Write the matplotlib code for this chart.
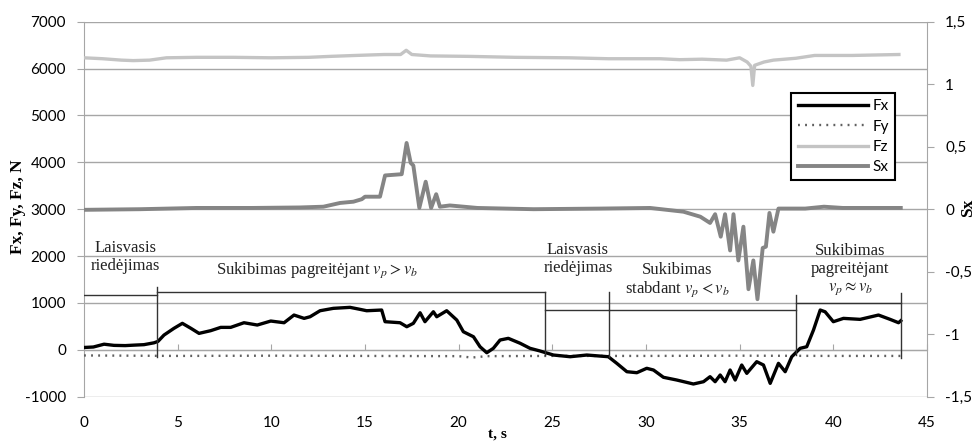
import matplotlib
matplotlib.use("Agg")
import matplotlib.pyplot as plt
from matplotlib.ticker import FuncFormatter, MultipleLocator, FixedLocator

plt.rcParams['font.family'] = ['Lato', 'DejaVu Sans']
plt.rcParams['mathtext.fontset'] = 'stix'

# ---------------- data ----------------
fx_t = [0, 0.5, 1.07, 1.6, 2.2, 2.67, 3.2, 3.74, 3.95, 4.27, 4.8, 5.25, 5.71, 6.14, 6.76,
        7.3, 7.83, 8.54, 9.25, 9.97, 10.68, 11.21, 11.75, 12.07, 12.6, 13.31, 14.2, 14.74,
        15.09, 15.89, 16.07, 16.87, 17.23, 17.58, 17.94, 18.2, 18.65, 18.83, 19.36, 19.9,
        20.25, 20.79, 21.14, 21.5, 21.85, 22.21, 22.65, 23.28, 23.81, 24.3, 25.06, 25.95,
        26.84, 27.99, 28.44, 28.98, 29.51, 30.04, 30.4, 30.93, 31.64, 32.53, 33.07, 33.42,
        33.69, 33.96, 34.22, 34.49, 34.76, 35.11, 35.38, 35.91, 36.27, 36.63, 37.07, 37.43,
        37.78, 38.23, 38.58, 38.94, 39.3, 39.56, 40.0, 40.54, 41.43, 42.41, 43.03, 43.48, 43.6]
fx_v = [50, 60, 120, 95, 90, 100, 110, 150, 180, 315, 458, 565, 458, 351, 408,
        479, 479, 578, 529, 614, 578, 742, 671, 706, 834, 885, 906, 863,
        834, 849, 600, 578, 493, 565, 791, 600, 812, 706, 834, 635,
        386, 279, 66, -62, 32, 209, 245, 140, 32, -20, -111, -147,
        -111, -147, -288, -467, -488, -394, -431, -586, -644, -729, -680, -573,
        -680, -537, -680, -431, -644, -324, -502, -253, -324, -715, -288, -467,
        -147, 32, 66, 422, 849, 812, 600, 671, 650, 742, 650, 578, 620]

fy_t = [0, 5, 10, 15, 20, 20.7, 21.5, 25, 30, 35, 40, 43.6]
fy_v = [-120, -130, -125, -130, -135, -165, -135, -130, -130, -125, -130, -130]

fz_t = [0, 1, 2, 2.63, 3.5, 4.4, 6, 8, 10, 12, 13.13, 14.5, 16.0, 16.9, 17.2, 17.5,
        18.5, 20.6, 23, 25.9, 28, 30.75, 31.8, 33, 34.3, 35.0, 35.4, 35.6, 35.7, 35.8,
        36.3, 36.8, 38, 39, 41, 43.5]
fz_v = [6230, 6210, 6180, 6170, 6180, 6230, 6240, 6240, 6230, 6240, 6260, 6280, 6300,
        6300, 6390, 6300, 6270, 6260, 6240, 6230, 6210, 6210, 6190, 6200, 6180, 6230,
        6140, 6050, 5640, 6070, 6140, 6180, 6220, 6280, 6280, 6300]

sx_t = [0, 3, 6, 9, 11.53, 12.78, 13.67, 14.38, 14.83, 15.0, 15.8, 16.07, 16.96, 17.22,
        17.44, 17.58, 17.9, 18.24, 18.53, 18.8, 19.0, 19.53, 21, 24, 27.55, 30.22, 32.0,
        32.9, 33.42, 33.69, 33.99, 34.22, 34.49, 34.67, 34.93, 35.2, 35.47, 35.73, 35.95,
        36.23, 36.4, 36.59, 36.8, 37.07, 38.5, 39.5, 40.5, 43.6]
sx_v = [-0.005, 0.0, 0.01, 0.01, 0.014, 0.02, 0.05, 0.06, 0.08, 0.1, 0.1, 0.27, 0.28,
        0.53, 0.37, 0.35, 0.01, 0.22, 0.01, 0.12, 0.02, 0.03, 0.01, 0.0, 0.005, 0.01,
        -0.02, -0.06, -0.11, -0.04, -0.22, -0.04, -0.33, -0.04, -0.41, -0.14, -0.64,
        -0.41, -0.72, -0.31, -0.30, -0.03, -0.18, 0.005, 0.005, 0.02, 0.01, 0.01]

x_ticks = [0, 5, 10, 15, 20, 25, 30, 35, 40, 45]

# phase annotation: start, end, bar level
phase_start = [0, 3.88, 24.6, 28.0, 38.0]
phase_end = [3.88, 24.6, 28.0, 38.0, 43.6]
phase_level = [1170, 1240, 860, 860, 990]
# separators: position, top, bottom
sep_t = [3.88, 24.6, 28.0, 38.0, 43.6]
sep_top = [1335, 1240, 1230, 1170, 1205]
sep_bot = [-160, -100, -160, -110, -180]

phase_labels = ["Laisvasis\nriedėjimas",
                "Sukibimas pagreitėjant $v_p > v_b$",
                "Laisvasis\nriedėjimas",
                "Sukibimas\nstabdant $v_p < v_b$",
                "Sukibimas\npagreitėjant\n$v_p \\approx v_b$"]
label_t = [2.2, 12.44, 26.37, 31.66, 40.9]
label_v = [1980, 1700, 1936, 1482, 1700]

# ---------------- figure ----------------
W, H = 978, 442
fig = plt.figure(figsize=(W / 100, H / 100), dpi=100)
L, R, T, B = 84, 927, 21.7, 396.7
ax = fig.add_axes([L / W, 1 - B / H, (R - L) / W, (B - T) / H])

grid_c = '#a6a6a6'
ax.set_xlim(0, 45)
ax.set_ylim(-1000, 7000)
ax.yaxis.set_major_locator(MultipleLocator(1000))
ax.xaxis.set_major_locator(FixedLocator(x_ticks))
ax.grid(axis='y', color=grid_c, lw=1)
ax.set_axisbelow(True)

for s in ['top', 'right']:
    ax.spines[s].set_visible(False)
ax.spines['left'].set_color(grid_c)
ax.spines['bottom'].set_position(('data', 0))
ax.spines['bottom'].set_color(grid_c)
ax.tick_params(axis='x', direction='in', length=4, color=grid_c, labelbottom=False)
ax.tick_params(axis='y', direction='out', length=5, color=grid_c, labelsize=11, pad=8)
ax.yaxis.set_major_formatter(FuncFormatter(lambda v, p: f"{int(v)}"))

sec = ax.secondary_xaxis('bottom')
sec.spines['bottom'].set_visible(False)
sec.xaxis.set_major_locator(FixedLocator(x_ticks))
sec.tick_params(axis='x', length=0, pad=14, labelsize=11)
sec.xaxis.set_major_formatter(FuncFormatter(lambda v, p: f"{int(round(v))}"))

lfx, = ax.plot(fx_t, fx_v, color='black', lw=2.4, label='Fx', zorder=5)
lfy, = ax.plot(fy_t, fy_v, color='#606060', lw=1.7, ls=(0, (0.8, 2.2)), label='Fy', zorder=4)
lfz, = ax.plot(fz_t, fz_v, color='#c4c4c4', lw=2.4, label='Fz', zorder=3)

# phase annotations
ann_c = '#333333'
for s0, s1, lv in zip(phase_start, phase_end, phase_level):
    ax.plot([s0, s1], [lv, lv], color=ann_c, lw=1, zorder=6)
for st, top, bot in zip(sep_t, sep_top, sep_bot):
    ax.plot([st, st], [bot, top], color=ann_c, lw=1, zorder=6)
for txt, tt, vv in zip(phase_labels, label_t, label_v):
    ax.text(tt, vv, txt, ha='center', va='center', ma='center', fontsize=12,
            family='Liberation Serif', color='#222222', linespacing=1.15, zorder=7)

ax2 = ax.twinx()
ax2.set_ylim(-1.5, 1.5)
ax2.yaxis.set_major_locator(MultipleLocator(0.5))
ax2.yaxis.set_major_formatter(FuncFormatter(lambda v, p: f"{v:g}".replace('.', ',')))
for s in ['top', 'bottom', 'left']:
    ax2.spines[s].set_visible(False)
ax2.spines['right'].set_color(grid_c)
ax2.tick_params(axis='y', direction='out', length=5, color=grid_c, labelsize=11, pad=8)
lsx, = ax2.plot(sx_t, sx_v, color='#858585', lw=2.8, label='Sx', zorder=3)

leg = ax2.legend(handles=[lfx, lfy, lfz, lsx], loc='upper right',
                 bbox_to_anchor=((895 - L) / (R - L), 1 - (93 - T) / (B - T)),
                 fontsize=11, frameon=True, fancybox=False, edgecolor='black',
                 handlelength=4.6, handletextpad=0.3, labelspacing=0.42,
                 borderpad=0.4, borderaxespad=0)
leg.get_frame().set_linewidth(1.5)
leg.get_frame().set_alpha(1)

fig.text(18 / W, 1 - 207 / H, "Fx, Fy, Fz, N", rotation=90, ha='center', va='center',
         fontsize=12.5, fontweight='bold', family='Liberation Serif')
fig.text(497 / W, 1 - 428 / H, "t, s", ha='center', va='top',
         fontsize=11, fontweight='bold', family='Liberation Serif')
fig.text(968 / W, 1 - 208 / H, "Sx", rotation=90, ha='center', va='center',
         fontsize=12.5, fontweight='bold', family='Liberation Serif')

fig.savefig('out.png', dpi=100)
